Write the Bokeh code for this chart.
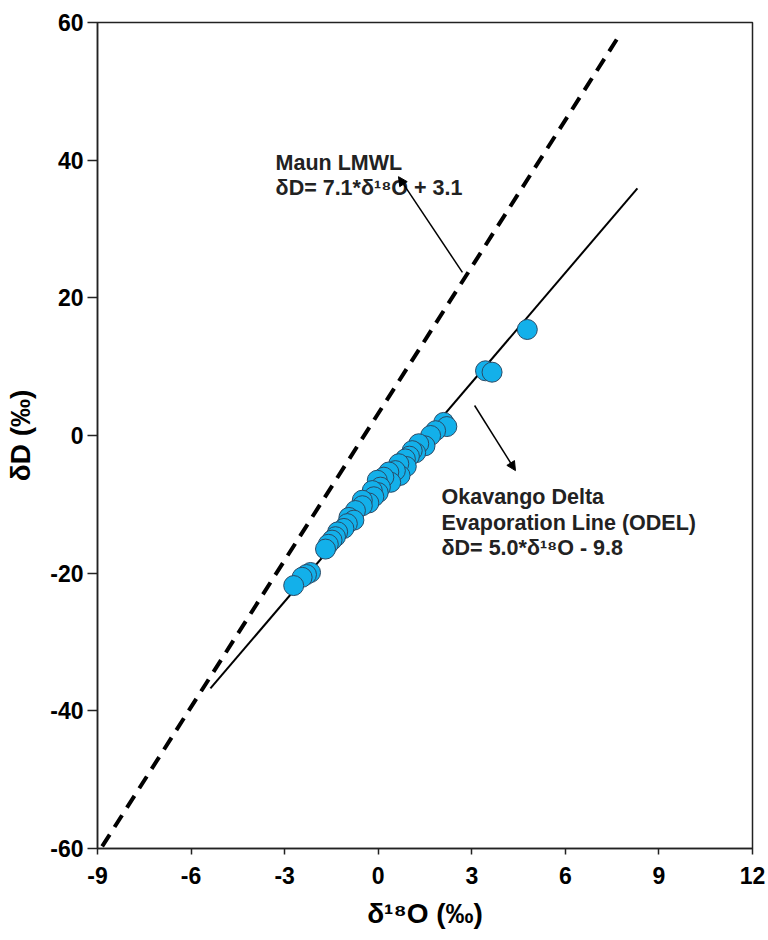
from bokeh.plotting import figure
from bokeh.models import Range1d, FixedTicker, Arrow, NormalHead, ColumnDataSource, CustomJSTickFormatter
from bokeh.core.properties import value
from bokeh.embed import file_html
from bokeh.resources import INLINE

# Sample data (delta18O, deltaD)
d18o = [4.78, 3.44, 3.65, 2.10, 2.20, 1.84, 1.68, 1.50, 1.30, 1.20, 1.09, 1.00,
        0.87, 0.90, 0.66, 0.70, 0.55, 0.34, 0.40, 0.18, -0.03, 0.07, 0.00, -0.19,
        -0.14, -0.30, -0.51, -0.51, -0.73, -0.94, -0.78, -0.99, -1.10, -1.30,
        -1.37, -1.48, -1.60, -1.69, -2.17, -2.30, -2.44, -2.71]
dD = [15.4, 9.4, 9.2, 1.9, 1.3, 0.7, 0.0, -1.5, -1.2, -2.5, -2.2, -3.0,
      -3.4, -4.5, -4.1, -5.8, -5.1, -5.3, -6.8, -6.05, -6.5, -7.5, -8.3, -8.0,
      -8.9, -9.8, -9.4, -10.2, -10.9, -11.9, -12.3, -12.8, -13.5, -14.0,
      -14.7, -15.2, -15.8, -16.5, -19.9, -20.2, -20.6, -21.8]

# Maun LMWL (dashed) and ODEL (solid) end points
lmwl_x = [-8.85, 7.67]
lmwl_y = [-59.7, 57.7]
odel_x = [-5.38, 8.31]
odel_y = [-36.75, 35.9]

x_ticks = [-9, -6, -3, 0, 3, 6, 9, 12]
y_ticks = [-60, -40, -20, 0, 20, 40, 60]

maun_lines = ["Maun LMWL", "\u03b4D= 7.1*\u03b4\u00b9\u2078O + 3.1"]
odel_lines = ["Okavango Delta", "Evaporation Line (ODEL)", "\u03b4D= 5.0*\u03b4\u00b9\u2078O - 9.8"]

SANS = "Liberation Sans"

p = figure(width=768, height=932, output_backend="svg", toolbar_location=None,
           x_range=Range1d(-9, 12), y_range=Range1d(-60, 60),
           min_border_left=97, min_border_right=16, min_border_top=22, min_border_bottom=84)
p.grid.visible = False
p.outline_line_color = "#222222"
p.outline_line_width = 1.5
p.background_fill_color = "white"
p.border_fill_color = "white"

fmt = CustomJSTickFormatter(code="return tick.toFixed(0);")
for ax in (p.xaxis[0], p.yaxis[0]):
    ax.formatter = fmt
    ax.axis_line_color = "#222222"
    ax.axis_line_width = 1.5
    ax.major_tick_line_color = "#222222"
    ax.major_tick_line_width = 1.5
    ax.minor_tick_line_color = None
    ax.major_tick_in = 0
    ax.major_label_text_font = SANS
    ax.major_label_text_font_style = "bold"
    ax.major_label_text_font_size = "23px"
    ax.major_label_text_color = "black"
    ax.axis_label_text_font = SANS
    ax.axis_label_text_font_style = "bold"
    ax.axis_label_text_font_size = "28px"
    ax.axis_label_text_color = "black"

p.xaxis.ticker = FixedTicker(ticks=x_ticks)
p.yaxis.ticker = FixedTicker(ticks=y_ticks)
p.xaxis.major_tick_out = 6
p.yaxis.major_tick_out = 10
p.xaxis.major_label_standoff = 12
p.yaxis.major_label_standoff = 4
p.xaxis.axis_label = "\u03b4\u00b9\u2078O (\u2030)"
p.yaxis.axis_label = "\u03b4D (\u2030)"
p.xaxis.axis_label_standoff = 11
p.yaxis.axis_label_standoff = 11

# lines
p.line(lmwl_x, lmwl_y, line_color="black", line_width=4, line_dash="14 9")
p.line(odel_x, odel_y, line_color="black", line_width=2)

# points
p.scatter(d18o, dD, size=20, fill_color="#13b0ea", line_color="#2a4a66", line_width=1)

# arrows
p.add_layout(Arrow(end=NormalHead(size=9, fill_color="black", line_color="black"),
                   x_start=2.70, y_start=23.7, x_end=0.65, y_end=37.6,
                   line_color="black", line_width=1.5))
p.add_layout(Arrow(end=NormalHead(size=9, fill_color="black", line_color="black"),
                   x_start=3.09, y_start=4.36, x_end=4.40, y_end=-5.1,
                   line_color="black", line_width=1.5))

# annotation texts
maun_src = ColumnDataSource(dict(x=[-3.29] * 2, y=[39.52, 35.89], t=maun_lines))
odel_src = ColumnDataSource(dict(x=[2.03] * 3, y=[-9.0, -12.78, -16.41], t=odel_lines))
for src in (maun_src, odel_src):
    p.text(x="x", y="y", text="t", source=src, text_font=value(SANS),
           text_font_style="bold", text_font_size="21.5px", text_color="#222222",
           text_baseline="alphabetic", text_align="left")

open("out.html", "w").write(file_html(p, INLINE))
